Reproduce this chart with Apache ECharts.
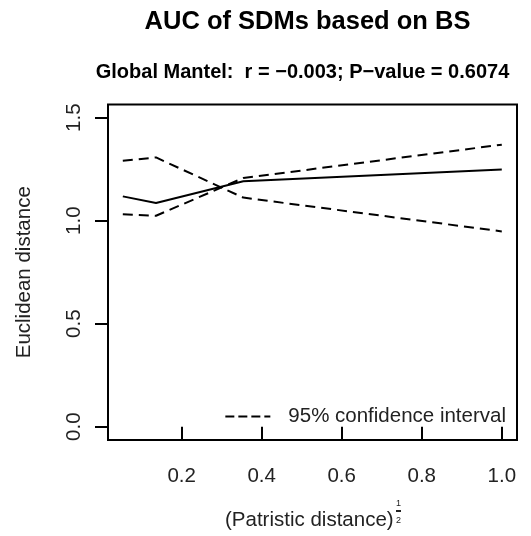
<!DOCTYPE html>
<html>
<head>
<meta charset="utf-8">
<script src="https://cdn.jsdelivr.net/npm/echarts@6/dist/echarts.min.js"></script>
<style>html,body{margin:0;padding:0;background:#fff}#c{width:531px;height:536px}</style>
</head>
<body>
<div id="c"></div>
<script>
// Data
const xVals = [0.053, 0.136, 0.354, 1.0];
const mantelVals = [1.118, 1.086, 1.191, 1.248];
const ciA = [1.291, 1.307, 1.112, 0.948];
const ciB = [1.031, 1.024, 1.207, 1.369];
const xTicks = [0.2, 0.4, 0.6, 0.8, 1.0];
const yTicks = [0.0, 0.5, 1.0, 1.5];
const titleText = 'AUC of SDMs based on BS';
const subText = 'Global Mantel:  r = \u22120.003; P\u2212value = 0.6074';
const legendText = '95% confidence interval';

const FF = '"Liberation Sans", Arial, sans-serif';
const FS = 20.5;
const pairs = v => xVals.map((x, i) => [x, v[i]]);

const chart = echarts.init(document.getElementById('c'), null, {renderer: 'canvas'});
chart.setOption({
  animation: false,
  backgroundColor: '#fff',
  grid: {left: 108, right: 14, top: 104.5, bottom: 96, show: true, borderColor: '#000', borderWidth: 2, backgroundColor: 'transparent'},
  xAxis: {
    type: 'value', min: 0.016, max: 1.038,
    axisLine: {show: false},
    splitLine: {show: false},
    axisTick: {show: true, customValues: xTicks, length: 13, lineStyle: {color: '#000', width: 2}},
    axisLabel: {customValues: xTicks, margin: 26, color: '#222', fontSize: FS, fontFamily: FF,
      formatter: v => v.toFixed(1)}
  },
  yAxis: {
    type: 'value', min: -0.0646, max: 1.564,
    name: 'Euclidean distance', nameLocation: 'middle', nameRotate: 90, nameGap: 73,
    nameTextStyle: {color: '#222', fontSize: FS, fontFamily: FF},
    axisLine: {show: false},
    splitLine: {show: false},
    axisTick: {show: true, customValues: yTicks, length: 13, lineStyle: {color: '#000', width: 2}},
    axisLabel: {customValues: yTicks, rotate: 90, margin: 23, color: '#222', fontSize: FS, fontFamily: FF,
      formatter: v => v.toFixed(1)}
  },
  legend: {
    show: true, data: [legendText], right: 25, top: 406, padding: 0,
    itemWidth: 45, itemHeight: 20,
    itemStyle: {opacity: 0},
    lineStyle: {color: '#000', width: 2, type: [9, 4]},
    textStyle: {color: '#222', fontSize: FS, fontFamily: FF, padding: [0, 0, 0, 13]}
  },
  series: [
    {type: 'line', name: 'Mantel', data: pairs(mantelVals), symbol: 'none',
      lineStyle: {color: '#000', width: 2}},
    {type: 'line', name: legendText, data: pairs(ciA), symbol: 'none',
      lineStyle: {color: '#000', width: 2, type: [10, 6]}},
    {type: 'line', name: legendText, data: pairs(ciB), symbol: 'none',
      lineStyle: {color: '#000', width: 2, type: [10, 6]}}
  ],
  graphic: [
    {type: 'text', x: 307.5, y: 22, style: {text: titleText, font: 'bold 25.5px ' + FF, fill: '#000', align: 'center', verticalAlign: 'middle'}},
    {type: 'text', x: 302.5, y: 72, style: {text: subText, font: 'bold 20px ' + FF, fill: '#000', align: 'center', verticalAlign: 'middle'}},
    {type: 'text', x: 225, y: 520, style: {text: '(Patristic distance)', font: FS + 'px ' + FF, fill: '#222', align: 'left', verticalAlign: 'middle'}},
    {type: 'text', x: 398.5, y: 504, style: {text: '1', font: '9px ' + FF, fill: '#222', align: 'center', verticalAlign: 'middle'}},
    {type: 'rect', shape: {x: 396, y: 510, width: 5, height: 2}, style: {fill: '#222'}},
    {type: 'text', x: 398.5, y: 521, style: {text: '2', font: '9px ' + FF, fill: '#222', align: 'center', verticalAlign: 'middle'}}
  ]
});
</script>
</body>
</html>
